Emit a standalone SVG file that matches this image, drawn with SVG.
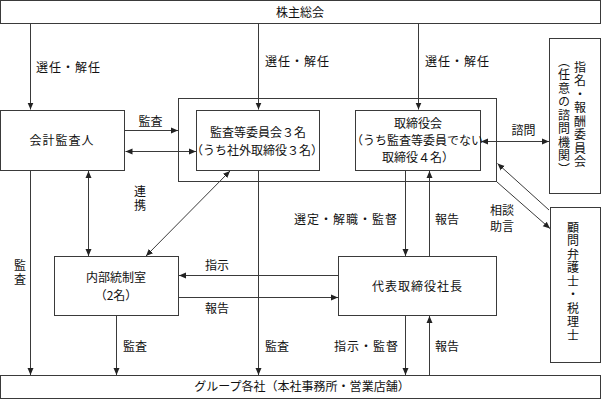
<svg xmlns="http://www.w3.org/2000/svg" width="602" height="400" viewBox="0 0 602 400">
<style>
.box{fill:#fff;stroke:#3a3a3a;stroke-width:1}
.ln{fill:none;stroke:#3a3a3a;stroke-width:1}
text{font-family:"Noto Sans CJK JP","Noto Sans",sans-serif;font-size:12px;fill:#111}
.c{text-anchor:middle}
.v{writing-mode:vertical-rl;text-anchor:middle;letter-spacing:1.5px}
</style>
<defs>
<marker id="ah" markerUnits="userSpaceOnUse" markerWidth="8" markerHeight="8" viewBox="0 0 8 8" refX="7" refY="4" orient="auto-start-reverse">
<path d="M0,1 L7,4 L0,7 Z" fill="#222"/>
</marker>
</defs>
<rect width="602" height="400" fill="#fff"/>
<g id="outer-group"><rect class="box" x="178.5" y="98.5" width="318" height="83" fill="none"/></g>
<g id="shareholders"><rect class="box" x="0.5" y="0.5" width="600" height="23"/><text class="c" x="300" y="16.5">株主総会</text></g>
<g id="auditor"><rect class="box" x="0.5" y="110.5" width="124" height="60"/><text class="c" x="62" y="145" letter-spacing="1">会計監査人</text></g>
<g id="audit-committee"><rect class="box" x="196.5" y="110.5" width="123" height="60"/><text class="c" x="258" y="137">監査等委員会３名</text><text class="c" x="257" y="154.5">（うち社外取締役３名）</text></g>
<g id="board"><rect class="box" x="355.5" y="110.5" width="125" height="60"/><text class="c" x="418" y="128">取締役会</text><text class="c" x="417" y="145">（うち監査等委員でない</text><text class="c" x="418" y="162">取締役４名）</text></g>
<g id="nomination"><rect class="box" x="549.5" y="38.5" width="51" height="155"/><text class="v" x="580" y="115">指名・報酬委員会</text><text class="v" x="564" y="116">（任意の諮問機関）</text></g>
<g id="advisors"><rect class="box" x="550.5" y="207.5" width="50" height="155"/><text class="v" x="573" y="282" letter-spacing="2px">顧問弁護士・税理士</text></g>
<g id="internal-control"><rect class="box" x="54.5" y="256.5" width="124" height="59"/><text class="c" x="116" y="282">内部統制室</text><text class="c" x="116" y="299.5">（2名）</text></g>
<g id="president"><rect class="box" x="338.5" y="256.5" width="158" height="59"/><text class="c" x="417.5" y="291" letter-spacing="1">代表取締役社長</text></g>
<g id="group"><rect class="box" x="0.5" y="375.5" width="600" height="23"/><text class="c" x="302" y="391">グループ各社（本社事務所・営業店舗）</text></g>
<g id="connectors">
<path class="ln" d="M30.5,24 V109.5" marker-end="url(#ah)"/>
<path class="ln" d="M258.5,24 V109.5" marker-end="url(#ah)"/>
<path class="ln" d="M418.5,24 V109.5" marker-end="url(#ah)"/>
<path class="ln" d="M125,130.5 H178" marker-end="url(#ah)"/>
<path class="ln" d="M125.5,151.5 H196" marker-start="url(#ah)" marker-end="url(#ah)"/>
<path class="ln" d="M481,141.5 H549" marker-start="url(#ah)" marker-end="url(#ah)"/>
<path class="ln" d="M549,210 L497.5,163.5" marker-end="url(#ah)"/>
<path class="ln" d="M497,182 L550,228.5" marker-end="url(#ah)"/>
<path class="ln" d="M405.5,171 V256" marker-end="url(#ah)"/>
<path class="ln" d="M429.5,256 V171" marker-end="url(#ah)"/>
<path class="ln" d="M88.5,171 V256" marker-start="url(#ah)" marker-end="url(#ah)"/>
<path class="ln" d="M230,171 L146,256" marker-start="url(#ah)" marker-end="url(#ah)"/>
<path class="ln" d="M338,275.5 H179" marker-end="url(#ah)"/>
<path class="ln" d="M179,297.5 H338" marker-end="url(#ah)"/>
<path class="ln" d="M30.5,171 V375" marker-end="url(#ah)"/>
<path class="ln" d="M116.5,316 V375" marker-end="url(#ah)"/>
<path class="ln" d="M258.5,171 V375" marker-end="url(#ah)"/>
<path class="ln" d="M405.5,316 V375" marker-end="url(#ah)"/>
<path class="ln" d="M429.5,375 V316" marker-end="url(#ah)"/>
</g>
<g id="labels">
<text x="36" y="72" letter-spacing="1">選任・解任</text>
<text x="265" y="66" letter-spacing="1">選任・解任</text>
<text x="425" y="66" letter-spacing="1">選任・解任</text>
<text class="c" x="150.5" y="126">監査</text>
<text class="c" x="523.5" y="134.5">諮問</text>
<text class="v" x="140" y="199">連携</text>
<text x="398" y="224" text-anchor="end" letter-spacing="1">選定・解職・監督</text>
<text x="435" y="224">報告</text>
<text x="490" y="214.5">相談</text>
<text x="490" y="231">助言</text>
<text x="205" y="269.5">指示</text>
<text x="205" y="313">報告</text>
<text class="v" x="20" y="273">監査</text>
<text x="123" y="351">監査</text>
<text x="265" y="351">監査</text>
<text x="334" y="351" letter-spacing="1">指示・監督</text>
<text x="435" y="351">報告</text>
</g>
</svg>
